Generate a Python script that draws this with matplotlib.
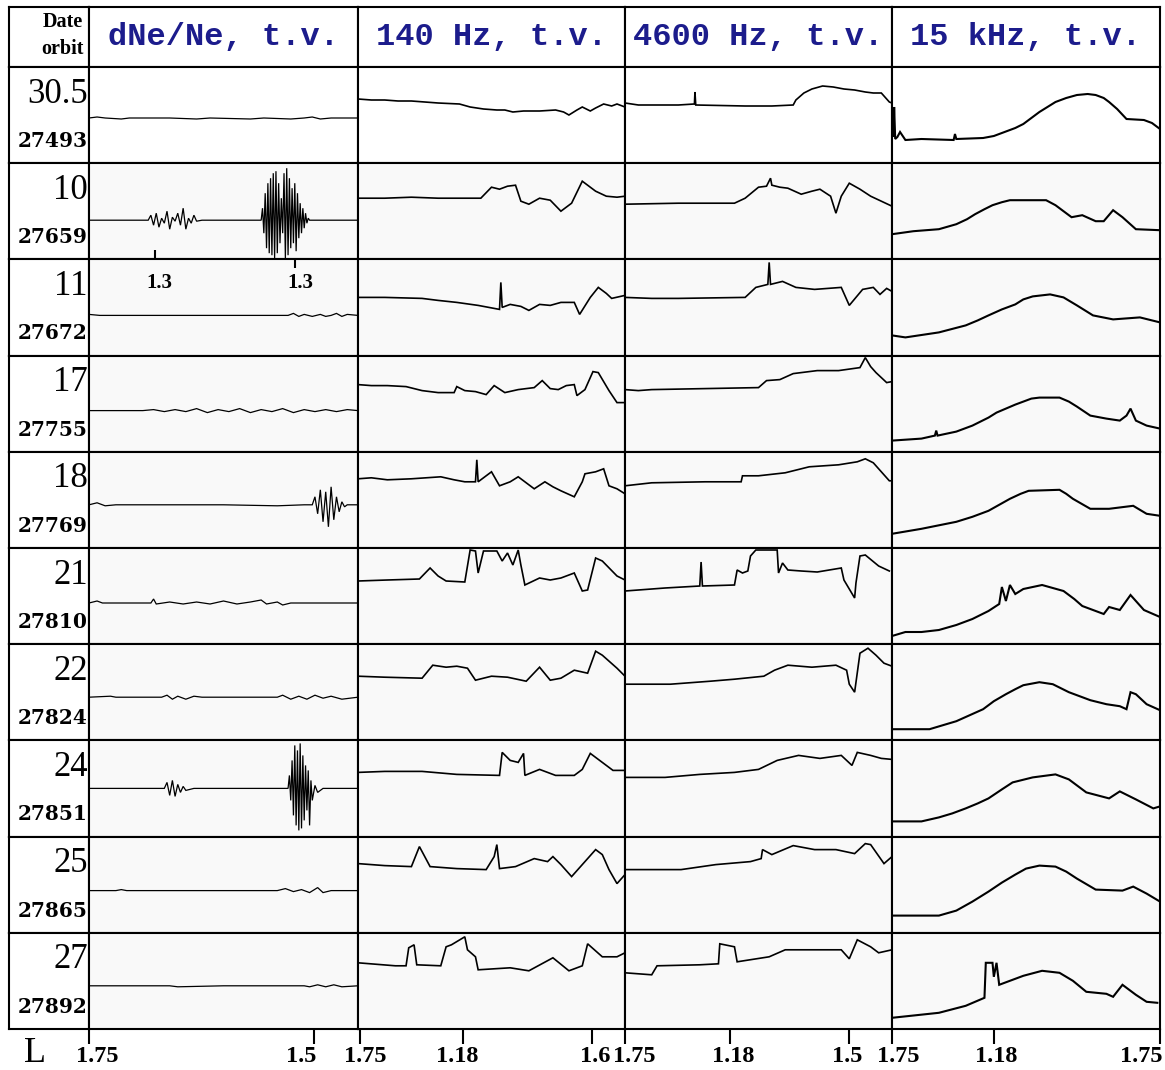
import matplotlib
matplotlib.use("Agg")
import matplotlib.pyplot as plt
import matplotlib.transforms as mtransforms

# ---- table text ----
dates = ["30.5", "10", "11", "17", "18", "21", "22", "24", "25", "27"]
orbits = ["27493", "27659", "27672", "27755", "27769",
          "27810", "27824", "27851", "27865", "27892"]
headers = ["dNe/Ne, t.v.", "140 Hz, t.v.", "4600 Hz, t.v.", "15 kHz, t.v."]

# L scale under each column (position as fraction of the column width)
tick_pos = [[0.0, 0.836], [0.007, 0.393, 0.876], [0.0, 0.393, 0.839], [0.0, 0.38, 1.0]]
tick_lab = [["1.75", "1.5"], ["1.75", "1.18", "1.6"], ["1.75", "1.18", "1.5"], ["1.75", "1.18", "1.75"]]
l13_pos = [0.26, 0.785]      # the two "1.3" marks, orbit 27659/27672
l13_ticks = [0.245, 0.766]

# ---- traces: (x fraction of cell, depth below cell top in px) ----
dne_traces = [
    [(0, 51), (0.03, 50), (0.06, 51), (0.12, 52), (0.15, 51), (0.3, 51), (0.4, 52), (0.45, 51),
     (0.6, 52), (0.65, 51), (0.75, 52), (0.8, 51), (0.83, 50), (0.86, 52), (0.9, 51), (1.0, 51)],
    [(0, 57), (0.2, 57), (0.22, 57), (0.23, 52), (0.24, 62), (0.25, 50), (0.26, 64), (0.27, 55),
     (0.28, 60), (0.29, 48), (0.30, 66), (0.31, 54), (0.32, 58), (0.33, 50), (0.34, 62), (0.35, 45),
     (0.36, 66), (0.37, 55), (0.38, 60), (0.39, 52), (0.40, 58), (0.42, 57), (0.64, 57),
     (0.645, 45), (0.65, 70), (0.655, 30), (0.66, 85), (0.665, 20), (0.67, 90), (0.675, 15),
     (0.68, 92), (0.685, 10), (0.69, 95), (0.695, 8), (0.70, 90), (0.705, 20), (0.71, 80),
     (0.715, 35), (0.72, 70), (0.725, 10), (0.73, 95), (0.735, 5), (0.74, 92), (0.745, 15),
     (0.75, 85), (0.755, 25), (0.76, 80), (0.765, 20), (0.77, 88), (0.775, 30), (0.78, 75),
     (0.785, 40), (0.79, 70), (0.795, 45), (0.80, 65), (0.805, 50), (0.81, 60), (0.815, 55),
     (0.82, 57), (1.0, 57)],
    [(0, 55), (0.04, 56), (0.74, 56), (0.76, 54), (0.78, 57), (0.8, 55), (0.83, 57), (0.86, 55),
     (0.88, 57), (0.9, 56), (0.92, 54), (0.94, 57), (0.96, 55), (1.0, 56)],
    [(0, 55), (0.2, 55), (0.24, 54), (0.28, 56), (0.32, 54), (0.36, 56), (0.40, 53), (0.44, 57),
     (0.48, 54), (0.52, 56), (0.56, 53), (0.60, 57), (0.64, 54), (0.68, 56), (0.72, 53),
     (0.76, 57), (0.80, 54), (0.84, 56), (0.88, 54), (0.92, 56), (0.96, 54), (1.0, 55)],
    [(0, 53), (0.03, 51), (0.06, 54), (0.1, 53), (0.3, 53), (0.5, 53), (0.7, 54), (0.8, 53),
     (0.83, 53), (0.84, 45), (0.85, 62), (0.86, 38), (0.87, 70), (0.88, 40), (0.89, 75),
     (0.90, 35), (0.91, 68), (0.92, 45), (0.93, 60), (0.94, 50), (0.95, 55), (0.96, 53), (1.0, 53)],
    [(0, 55), (0.03, 53), (0.05, 55), (0.23, 55), (0.24, 51), (0.25, 56), (0.3, 54), (0.35, 56),
     (0.4, 54), (0.45, 56), (0.5, 53), (0.55, 56), (0.6, 54), (0.64, 52), (0.66, 56), (0.7, 54),
     (0.72, 57), (0.75, 55), (1.0, 55)],
    [(0, 53), (0.08, 52), (0.1, 53), (0.27, 53), (0.29, 51), (0.31, 55), (0.33, 52), (0.36, 55),
     (0.39, 52), (0.42, 53), (0.7, 53), (0.72, 51), (0.75, 55), (0.78, 52), (0.81, 55),
     (0.84, 51), (0.87, 54), (0.9, 52), (0.94, 55), (1.0, 53)],
    [(0, 48), (0.1, 48), (0.2, 48), (0.28, 48), (0.29, 42), (0.30, 55), (0.31, 40), (0.32, 56),
     (0.33, 44), (0.34, 52), (0.35, 46), (0.36, 50), (0.39, 48), (0.6, 48), (0.74, 48),
     (0.745, 35), (0.75, 60), (0.755, 20), (0.76, 75), (0.765, 5), (0.77, 85), (0.775, 10),
     (0.78, 90), (0.785, 3), (0.79, 88), (0.795, 15), (0.80, 80), (0.805, 25), (0.81, 70),
     (0.815, 30), (0.82, 85), (0.825, 40), (0.83, 60), (0.84, 45), (0.85, 52), (0.87, 48), (1.0, 48)],
    [(0, 54), (0.1, 54), (0.12, 53), (0.14, 54), (0.4, 54), (0.6, 54), (0.7, 54), (0.73, 52),
     (0.76, 55), (0.79, 53), (0.82, 56), (0.85, 51), (0.87, 56), (0.9, 54), (1.0, 54)],
    [(0, 53), (0.3, 53), (0.33, 54), (0.5, 53), (0.65, 53), (0.8, 53), (0.82, 54), (0.85, 52),
     (0.88, 54), (0.91, 52), (0.94, 54), (1.0, 53)],
]

hz140_traces = [
    [(0, 32), (0.05, 33), (0.1, 33), (0.15, 34), (0.2, 34), (0.25, 35), (0.3, 36), (0.38, 37),
     (0.42, 40), (0.47, 42), (0.52, 43), (0.55, 43), (0.58, 45), (0.62, 44), (0.68, 44), (0.74, 43),
     (0.77, 45), (0.79, 48), (0.82, 43), (0.84, 40), (0.87, 44), (0.89, 41), (0.92, 37), (0.95, 39),
     (0.97, 37), (1.0, 40)],
    [(0, 35), (0.1, 35), (0.2, 34), (0.3, 35), (0.46, 35), (0.5, 24), (0.53, 26), (0.56, 23),
     (0.59, 22), (0.6, 30), (0.61, 38), (0.64, 41), (0.68, 35), (0.72, 37), (0.76, 48), (0.80, 40),
     (0.84, 18), (0.86, 22), (0.89, 28), (0.93, 33), (0.97, 34), (1.0, 33)],
    [(0, 38), (0.1, 38), (0.24, 39), (0.3, 41), (0.37, 43), (0.45, 46), (0.53, 50), (0.535, 23),
     (0.54, 48), (0.57, 45), (0.61, 47), (0.64, 51), (0.68, 45), (0.72, 46), (0.76, 43), (0.81, 43),
     (0.83, 55), (0.87, 38), (0.90, 28), (0.93, 34), (0.95, 39), (1.0, 36)],
    [(0, 29), (0.05, 30), (0.11, 30), (0.18, 31), (0.24, 35), (0.3, 37), (0.36, 37), (0.37, 31),
     (0.40, 35), (0.44, 36), (0.48, 39), (0.51, 30), (0.55, 37), (0.6, 34), (0.66, 32), (0.69, 25),
     (0.72, 33), (0.75, 34), (0.78, 30), (0.81, 29), (0.82, 40), (0.85, 34), (0.88, 16), (0.90, 17),
     (0.94, 35), (0.97, 47), (1.0, 47)],
    [(0, 27), (0.05, 26), (0.11, 28), (0.2, 27), (0.31, 25), (0.36, 28), (0.40, 30), (0.44, 30),
     (0.445, 8), (0.45, 30), (0.47, 26), (0.50, 20), (0.53, 34), (0.57, 30), (0.60, 25), (0.63, 31),
     (0.66, 37), (0.70, 30), (0.73, 35), (0.76, 39), (0.81, 45), (0.84, 30), (0.85, 22), (0.89, 20),
     (0.92, 17), (0.94, 34), (0.97, 37), (1.0, 42)],
    [(0, 33), (0.11, 32), (0.23, 31), (0.27, 20), (0.30, 28), (0.33, 33), (0.40, 34), (0.42, 2),
     (0.44, 3), (0.45, 25), (0.47, 3), (0.52, 3), (0.54, 13), (0.56, 5), (0.58, 17), (0.60, 2),
     (0.61, 17), (0.625, 37), (0.68, 30), (0.72, 32), (0.76, 30), (0.81, 25), (0.84, 43), (0.86, 42),
     (0.89, 10), (0.915, 13), (0.97, 28), (1.0, 32)],
    [(0, 32), (0.1, 33), (0.24, 34), (0.28, 21), (0.33, 23), (0.37, 22), (0.41, 24), (0.44, 36),
     (0.5, 32), (0.56, 33), (0.63, 37), (0.68, 23), (0.72, 36), (0.76, 34), (0.81, 26), (0.86, 29),
     (0.89, 7), (0.915, 11), (0.97, 24), (1.0, 32)],
    [(0, 32), (0.1, 31), (0.24, 31), (0.37, 34), (0.53, 35), (0.54, 12), (0.57, 20), (0.60, 22),
     (0.62, 13), (0.625, 35), (0.68, 29), (0.74, 35), (0.81, 35), (0.84, 29), (0.87, 13),
     (0.915, 22), (0.955, 30), (1.0, 30)],
    [(0, 27), (0.1, 29), (0.2, 30), (0.23, 10), (0.27, 30), (0.37, 32), (0.48, 33), (0.51, 20),
     (0.52, 8), (0.53, 32), (0.59, 30), (0.66, 22), (0.71, 25), (0.73, 20), (0.76, 28), (0.80, 40),
     (0.84, 28), (0.89, 13), (0.915, 18), (0.94, 33), (0.97, 47), (1.0, 38)],
    [(0, 30), (0.14, 33), (0.18, 33), (0.19, 15), (0.21, 12), (0.22, 32), (0.31, 33), (0.33, 14),
     (0.35, 12), (0.40, 4), (0.41, 17), (0.44, 24), (0.45, 37), (0.57, 35), (0.64, 38), (0.73, 25),
     (0.79, 38), (0.84, 33), (0.86, 11), (0.915, 24), (0.97, 24), (1.0, 20)],
]

hz4600_traces = [
    [(0, 36), (0.05, 38), (0.2, 38), (0.26, 37), (0.262, 25), (0.265, 38), (0.45, 39), (0.55, 39),
     (0.63, 38), (0.64, 33), (0.67, 26), (0.70, 22), (0.74, 19), (0.78, 20), (0.82, 22), (0.86, 23),
     (0.90, 25), (0.93, 26), (0.96, 26), (0.99, 35), (1.0, 36)],
    [(0, 41), (0.2, 40), (0.41, 40), (0.45, 35), (0.50, 24), (0.53, 23), (0.545, 15), (0.55, 22),
     (0.58, 24), (0.61, 25), (0.66, 31), (0.70, 28), (0.73, 26), (0.77, 33), (0.79, 50), (0.81, 33),
     (0.84, 20), (0.88, 26), (0.92, 33), (0.96, 38), (1.0, 43)],
    [(0, 38), (0.1, 39), (0.2, 39), (0.45, 38), (0.49, 28), (0.535, 25), (0.54, 3), (0.545, 25),
     (0.59, 22), (0.64, 28), (0.71, 30), (0.76, 29), (0.81, 28), (0.84, 46), (0.89, 30), (0.93, 28),
     (0.955, 35), (0.98, 29), (1.0, 32)],
    [(0, 34), (0.05, 35), (0.1, 34), (0.3, 33), (0.5, 32), (0.53, 25), (0.58, 24), (0.63, 18),
     (0.72, 15), (0.80, 15), (0.88, 12), (0.90, 2), (0.92, 11), (0.94, 17), (0.98, 27), (1.0, 26)],
    [(0, 34), (0.1, 31), (0.3, 30), (0.435, 30), (0.44, 24), (0.5, 24), (0.6, 21), (0.69, 15),
     (0.80, 13), (0.87, 10), (0.90, 7), (0.93, 11), (0.99, 29), (1.0, 29)],
    [(0, 43), (0.15, 40), (0.28, 38), (0.285, 14), (0.29, 38), (0.41, 37), (0.42, 22), (0.44, 25),
     (0.46, 23), (0.47, 8), (0.49, 2), (0.57, 2), (0.575, 25), (0.59, 15), (0.61, 22), (0.66, 23),
     (0.72, 24), (0.81, 20), (0.82, 32), (0.86, 50), (0.865, 35), (0.88, 8), (0.90, 7), (0.95, 18),
     (0.99, 23)],
    [(0, 40), (0.17, 40), (0.32, 37), (0.41, 35), (0.52, 32), (0.56, 26), (0.61, 21), (0.70, 23),
     (0.79, 21), (0.83, 26), (0.84, 40), (0.86, 48), (0.88, 9), (0.91, 4), (0.94, 11), (0.97, 19),
     (1.0, 22)],
    [(0, 37), (0.15, 37), (0.28, 34), (0.41, 32), (0.5, 29), (0.57, 20), (0.65, 15), (0.73, 18),
     (0.81, 15), (0.85, 25), (0.87, 12), (0.92, 15), (0.96, 18), (1.0, 19)],
    [(0, 33), (0.21, 33), (0.34, 28), (0.47, 25), (0.51, 22), (0.515, 13), (0.55, 18), (0.63, 9),
     (0.71, 13), (0.79, 13), (0.86, 17), (0.90, 7), (0.92, 8), (0.97, 27), (1.0, 20)],
    [(0, 40), (0.10, 42), (0.12, 33), (0.28, 32), (0.35, 31), (0.355, 11), (0.41, 14), (0.42, 29),
     (0.54, 24), (0.60, 17), (0.70, 17), (0.81, 17), (0.84, 26), (0.87, 7), (0.92, 14), (0.95, 20),
     (1.0, 17)],
]

khz15_traces = [
    [(0, 45), (0.006, 70), (0.008, 40), (0.012, 72), (0.02, 70), (0.03, 65), (0.05, 73), (0.11, 72),
     (0.23, 73), (0.235, 67), (0.24, 72), (0.34, 71), (0.38, 69), (0.42, 65), (0.46, 61), (0.49, 57),
     (0.52, 51), (0.55, 45), (0.58, 40), (0.61, 35), (0.65, 31), (0.69, 28), (0.73, 27), (0.76, 28),
     (0.79, 31), (0.81, 35), (0.84, 42), (0.875, 52), (0.94, 53), (0.97, 56), (1.0, 62)],
    [(0, 71), (0.08, 68), (0.175, 66), (0.24, 61), (0.28, 56), (0.31, 51), (0.345, 46), (0.375, 42),
     (0.41, 39), (0.44, 37), (0.575, 37), (0.61, 42), (0.64, 48), (0.67, 54), (0.71, 52), (0.76, 58),
     (0.79, 58), (0.825, 47), (0.86, 54), (0.91, 66), (1.0, 67)],
    [(0, 76), (0.05, 78), (0.175, 73), (0.275, 66), (0.32, 61), (0.36, 56), (0.41, 50), (0.46, 45),
     (0.49, 40), (0.525, 37), (0.59, 35), (0.64, 38), (0.69, 46), (0.72, 51), (0.75, 56),
     (0.825, 60), (0.925, 58), (1.0, 63)],
    [(0, 85), (0.11, 83), (0.16, 80), (0.165, 75), (0.17, 80), (0.24, 76), (0.30, 70), (0.33, 66),
     (0.36, 62), (0.39, 57), (0.425, 53), (0.46, 49), (0.49, 46), (0.52, 43), (0.55, 42), (0.625, 42),
     (0.66, 46), (0.69, 51), (0.74, 60), (0.80, 63), (0.85, 65), (0.875, 60), (0.89, 53), (0.91, 65),
     (0.95, 70), (1.0, 73)],
    [(0, 82), (0.11, 77), (0.24, 70), (0.30, 65), (0.36, 59), (0.40, 53), (0.44, 47), (0.48, 42),
     (0.51, 39), (0.625, 38), (0.65, 42), (0.675, 47), (0.74, 57), (0.81, 57), (0.90, 54),
     (0.95, 62), (1.0, 64)],
    [(0, 88), (0.05, 84), (0.11, 84), (0.175, 82), (0.24, 77), (0.30, 71), (0.36, 63), (0.40, 56),
     (0.41, 39), (0.425, 53), (0.44, 37), (0.46, 46), (0.49, 41), (0.56, 37), (0.64, 43), (0.68, 51),
     (0.71, 58), (0.79, 66), (0.81, 59), (0.85, 62), (0.89, 47), (0.94, 62), (1.0, 69)],
    [(0, 85), (0.14, 85), (0.24, 77), (0.29, 71), (0.34, 65), (0.38, 57), (0.425, 50), (0.46, 45),
     (0.49, 41), (0.55, 38), (0.6, 40), (0.66, 48), (0.74, 56), (0.80, 60), (0.85, 62), (0.875, 65),
     (0.89, 48), (0.91, 50), (0.95, 60), (1.0, 66)],
    [(0, 81), (0.11, 81), (0.175, 77), (0.225, 73), (0.275, 68), (0.32, 63), (0.36, 58), (0.41, 49),
     (0.45, 42), (0.525, 37), (0.61, 34), (0.66, 39), (0.69, 45), (0.725, 52), (0.81, 58),
     (0.85, 51), (0.91, 59), (0.975, 68), (1.0, 66)],
    [(0, 79), (0.175, 79), (0.24, 74), (0.30, 65), (0.36, 55), (0.41, 46), (0.46, 38), (0.50, 32),
     (0.55, 29), (0.61, 30), (0.65, 35), (0.69, 42), (0.76, 53), (0.86, 54), (0.90, 50), (0.95, 57),
     (1.0, 65)],
    [(0, 85), (0.175, 80), (0.275, 73), (0.345, 65), (0.35, 30), (0.375, 30), (0.38, 44), (0.39, 30),
     (0.40, 52), (0.45, 47), (0.49, 43), (0.56, 38), (0.625, 40), (0.675, 48), (0.725, 59),
     (0.80, 61), (0.825, 64), (0.86, 52), (0.91, 62), (0.95, 69), (0.99, 70)],
]

all_traces = [dne_traces, hz140_traces, hz4600_traces, khz15_traces]

# ---- layout (pixels) ----
W, H = 1165, 1070
col_edges = [9, 89, 358, 625, 892, 1160]
table_top = 7
head_h = 60
row_h = 96.2
navy = "#1c1c8c"
serif = ["Liberation Serif", "DejaVu Serif"]
# nudges of the L labels relative to their ticks (pixels), as in the original scan
lab_dx = [[8, -13], [5, -6, 3], [9, 3, -2], [6, 2, 3]]
lab_ha = [["center", "center"], ["center", "center", "center"],
          ["center", "center", "center"], ["center", "center", "right"]]


def px_box(x0, x1, y0, y1):
    return [x0 / W, 1 - y1 / H, (x1 - x0) / W, (y1 - y0) / H]


def make_cell(x0, x1, y0, y1, face="white"):
    ax = fig.add_axes(px_box(x0, x1, y0, y1))
    ax.set_xlim(0, 1)
    ax.set_ylim(y1 - y0, 0)
    ax.set_xticks([])
    ax.set_yticks([])
    ax.set_facecolor(face)
    for s in ax.spines.values():
        s.set_linewidth(1.5)
        s.set_color("black")
    return ax


fig = plt.figure(figsize=(W / 100, H / 100), dpi=100)

# header row
y0, y1 = table_top, table_top + head_h
ax = make_cell(col_edges[0], col_edges[1], y0, y1)
ax.text(0.93, 15, "Date", ha="right", va="center", fontsize=14.5, fontweight="bold", family=serif)
ax.text(0.93, 42, "orbit", ha="right", va="center", fontsize=14.5, fontweight="bold", family=serif)
for c, title in enumerate(headers):
    ax = make_cell(col_edges[c + 1], col_edges[c + 2], y0, y1)
    ax.text(0.5, 30, title, ha="center", va="center", fontsize=23, fontweight="bold",
            color=navy, family=["Liberation Mono", "DejaVu Sans Mono"])

# data rows
for r in range(len(dates)):
    y0 = table_top + head_h + r * row_h
    y1 = y0 + row_h
    ax = make_cell(col_edges[0], col_edges[1], y0, y1)
    ax.text(0.985, 27, dates[r], ha="right", va="center", fontsize=25, family=serif)
    ax.text(0.985, 74, orbits[r], ha="right", va="center", fontsize=14.5, fontweight="bold",
            family=["DejaVu Serif"])
    for c in range(4):
        face = "white" if r == 0 else "#f9f9f9"
        ax = make_cell(col_edges[c + 1], col_edges[c + 2], y0, y1, face)
        pts = all_traces[c][r]
        xs = [p[0] for p in pts]
        ys = [p[1] for p in pts]
        lw = 0.9 if c == 0 else (1.5 if c == 3 else 1.2)
        ax.plot(xs, ys, color="black", lw=lw, solid_joinstyle="miter", clip_on=True)
        if c == 0 and r == 1:
            ax.vlines(l13_ticks[0], row_h - 9, row_h, color="black", lw=1.5)
        if c == 0 and r == 2:
            ax.vlines(l13_ticks[1], 0, 9, color="black", lw=1.5)
            for xp in l13_pos:
                ax.text(xp, 24, "1.3", ha="center", va="center", fontsize=15,
                        fontweight="bold", family=serif)
        if r == len(dates) - 1:
            ax.set_xticks(tick_pos[c])
            ax.tick_params(axis="x", direction="out", length=11, width=1.5, labelbottom=False)
            for k, (xp, lab) in enumerate(zip(tick_pos[c], tick_lab[c])):
                tr = mtransforms.offset_copy(ax.get_xaxis_transform(), fig=fig,
                                             x=lab_dx[c][k], y=-27, units="dots")
                ax.text(xp, 0, lab, transform=tr, ha=lab_ha[c][k], va="center",
                        family=serif, fontsize=17.5, fontweight="bold", clip_on=False)

fig.text(35 / W, 1 - 1054 / H, "L", ha="center", va="center", fontsize=26, family=serif)

fig.savefig("out.png", dpi=100)
